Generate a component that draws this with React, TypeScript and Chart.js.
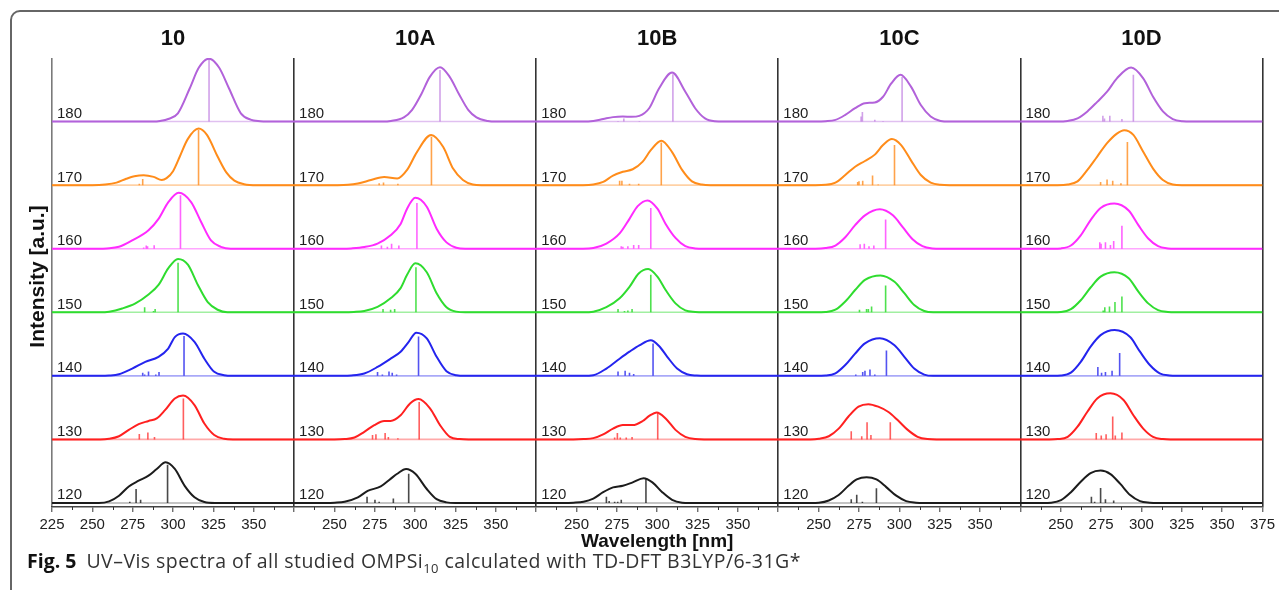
import React, { useEffect, useRef } from 'react';
import { Chart, registerables } from 'chart.js';

Chart.register(...registerables);

// ---------- labels ----------
const panelNames = ['10', '10A', '10B', '10C', '10D'];
const rowLabels = ['120', '130', '140', '150', '160', '170', '180'];
const rowColors = ['#1c1c1c', '#ff2020', '#2424ee', '#2fdc2f', '#ff2bff', '#ff8c1a', '#b262da'];
const stickColors = ['rgba(28,28,28,0.8)', 'rgba(255,40,40,0.75)', 'rgba(40,40,238,0.8)', 'rgba(47,220,47,0.85)', 'rgba(255,60,255,0.8)', 'rgba(255,140,30,0.8)', 'rgba(178,98,218,0.6)'];
const baseColors = ['rgba(28,28,28,0.35)', 'rgba(255,40,40,0.4)', 'rgba(40,40,238,0.4)', 'rgba(47,220,47,0.45)', 'rgba(255,60,255,0.45)', 'rgba(255,140,30,0.4)', 'rgba(178,98,218,0.4)'];
const wlMin = 225;
const wlMax = 375;

// ---------- data: [wavelength nm, relative intensity] per row 120..180 ----------
const curves10 = [
  [[254, 0], [260.4, 0.026], [266.5, 0.115], [272.6, 0.26], [278.7, 0.35], [284.8, 0.43], [289.9, 0.535], [295.4, 0.64], [301.1, 0.535], [307.2, 0.27], [313.3, 0.09], [319.4, 0.015], [326, 0]],
  [[255, 0], [260.4, 0.01], [266.5, 0.05], [272.6, 0.15], [278.7, 0.24], [284.8, 0.29], [289.9, 0.33], [295, 0.46], [301.1, 0.645], [306.2, 0.69], [313.3, 0.54], [319.4, 0.25], [325.5, 0.07], [331.6, 0.01], [337, 0]],
  [[255, 0], [260.4, 0.005], [266.5, 0.026], [274.7, 0.115], [282.8, 0.22], [291, 0.3], [297, 0.43], [301.1, 0.61], [306.2, 0.667], [313.3, 0.535], [319.4, 0.27], [325.5, 0.063], [331.6, 0.01], [337, 0]],
  [[255, 0], [260.4, 0.01], [268.5, 0.06], [276.7, 0.14], [284.8, 0.28], [291, 0.43], [297, 0.69], [303.1, 0.84], [309.2, 0.75], [315.4, 0.43], [321.5, 0.16], [327.6, 0.04], [333.7, 0]],
  [[254, 0], [259, 0.005], [266.5, 0.03], [274.7, 0.13], [284.8, 0.29], [291, 0.47], [297, 0.73], [303.5, 0.88], [311.3, 0.73], [317.4, 0.42], [323.5, 0.13], [329.6, 0.03], [335.7, 0]],
  [[250, 0], [258, 0.01], [265, 0.04], [271, 0.1], [276, 0.14], [281.8, 0.157], [288, 0.13], [293, 0.08], [296, 0.11], [300, 0.22], [304.2, 0.45], [309, 0.72], [315.8, 0.89], [321, 0.79], [327.6, 0.45], [333, 0.2], [338, 0.07], [344, 0.015], [352, 0]],
  [[288, 0], [292, 0.01], [297, 0.04], [303, 0.13], [310.3, 0.52], [316, 0.85], [322.3, 0.99], [328.5, 0.85], [334.7, 0.52], [342, 0.13], [348, 0.03], [354, 0.005], [358, 0]],
];
const sticks10 = [
  [[273.2, 0.02], [277.1, 0.22], [279.9, 0.05], [296.6, 0.6]],
  [[279.1, 0.085], [284.4, 0.11], [288.5, 0.04], [306.4, 0.645]],
  [[281.2, 0.05], [282.4, 0.02], [284.8, 0.07], [289.3, 0.02], [291.3, 0.06], [306.8, 0.625]],
  [[282.4, 0.08], [287.9, 0.02], [288.9, 0.05], [303.1, 0.78]],
  [[281.8, 0.02], [283.4, 0.05], [284.2, 0.04], [288.3, 0.055], [304.6, 0.84]],
  [[279.1, 0.02], [281.2, 0.095], [315.8, 0.87]],
  [[322.3, 0.98]],
];

const curves10A = [
  [[245, 0], [250.2, 0.005], [256.3, 0.02], [264.5, 0.09], [270.6, 0.19], [278.7, 0.26], [284.8, 0.38], [288.9, 0.46], [294.4, 0.535], [300.1, 0.46], [307.2, 0.22], [313.3, 0.06], [319.4, 0.01], [325, 0]],
  [[250, 0], [256.3, 0.005], [262.4, 0.03], [268.5, 0.12], [274.7, 0.225], [280.8, 0.29], [284.8, 0.29], [291, 0.38], [297, 0.57], [302.1, 0.635], [309.2, 0.49], [315.4, 0.225], [321.5, 0.04], [327.6, 0.005], [333, 0]],
  [[255, 0], [260.4, 0.005], [268.5, 0.037], [276.7, 0.14], [284.8, 0.27], [291, 0.38], [296, 0.535], [300.7, 0.68], [307.2, 0.59], [313.3, 0.3], [319.4, 0.073], [325.5, 0.01], [331, 0]],
  [[256, 0], [262, 0.005], [268.5, 0.02], [276.7, 0.084], [284.8, 0.22], [291, 0.38], [295, 0.59], [300.1, 0.77], [307.2, 0.63], [313.3, 0.3], [319.4, 0.08], [325.5, 0.01], [331, 0]],
  [[255, 0], [260.4, 0.005], [268.5, 0.026], [276.7, 0.08], [284.8, 0.21], [291, 0.39], [295, 0.63], [300.1, 0.8], [307.2, 0.66], [313.3, 0.315], [319.4, 0.1], [325.5, 0.016], [331, 0]],
  [[252, 0], [258.4, 0.005], [264.5, 0.026], [272.6, 0.08], [280.8, 0.13], [288.9, 0.105], [295, 0.24], [301.1, 0.52], [309.9, 0.79], [317.4, 0.6], [323.5, 0.26], [329.6, 0.08], [335.7, 0.01], [341, 0]],
  [[280, 0], [285, 0.01], [293, 0.065], [298, 0.18], [303.8, 0.43], [309, 0.7], [315.4, 0.855], [321.5, 0.7], [327.2, 0.43], [333, 0.18], [338, 0.065], [345, 0.01], [350, 0]],
];
const sticks10A = [
  [[270.2, 0.1], [275.1, 0.05], [277.7, 0.02], [286.5, 0.07], [296, 0.46]],
  [[273.6, 0.07], [275.7, 0.08], [281.4, 0.1], [283.4, 0.04], [289.3, 0.02], [302.5, 0.59]],
  [[276.7, 0.06], [279.7, 0.02], [283.8, 0.07], [285.8, 0.05], [288.5, 0.02], [302.1, 0.62]],
  [[280.1, 0.05], [284.8, 0.04], [287.3, 0.05], [300.5, 0.71]],
  [[279.1, 0.05], [282.8, 0.03], [285.4, 0.08], [289.9, 0.05], [301.1, 0.72]],
  [[277.7, 0.03], [280.4, 0.04], [289.3, 0.02], [310.1, 0.76]],
  [[315.4, 0.81]],
];

const curves10B = [
  [[242, 0], [248.2, 0.005], [254.3, 0.02], [260.4, 0.07], [266.5, 0.17], [272.6, 0.245], [278.7, 0.27], [284.8, 0.325], [291.5, 0.39], [297, 0.325], [303.1, 0.17], [309.2, 0.05], [315.4, 0.005], [320, 0]],
  [[248, 0], [254.3, 0.005], [260.4, 0.02], [266.5, 0.08], [272.6, 0.17], [278.7, 0.225], [284.8, 0.225], [291, 0.29], [295, 0.37], [299.7, 0.425], [305.2, 0.33], [311.3, 0.15], [317.4, 0.04], [323.5, 0.005], [329, 0]],
  [[254, 0], [260.4, 0.01], [268.5, 0.115], [276.7, 0.27], [282.8, 0.38], [288.9, 0.48], [296, 0.56], [301.1, 0.47], [306.2, 0.3], [312.3, 0.115], [318.4, 0.026], [324.5, 0.005], [330, 0]],
  [[254, 0], [260.4, 0.01], [268.5, 0.08], [276.7, 0.22], [282.8, 0.4], [288.5, 0.61], [294.4, 0.68], [300.1, 0.56], [305.2, 0.35], [311.3, 0.14], [317.4, 0.03], [323.5, 0.005], [329, 0]],
  [[254, 0], [260.4, 0.01], [268.5, 0.08], [276.7, 0.24], [282.8, 0.47], [287.9, 0.67], [294, 0.76], [300.1, 0.63], [305.2, 0.39], [311.3, 0.17], [317.4, 0.04], [323.5, 0.005], [329, 0]],
  [[254, 0], [260.4, 0.01], [266.5, 0.05], [272.6, 0.15], [278.7, 0.21], [284.8, 0.25], [291, 0.37], [296, 0.55], [302.5, 0.7], [309.2, 0.52], [315.4, 0.24], [321.5, 0.06], [327.6, 0.01], [333, 0]],
  [[254, 0], [260.4, 0.01], [266.5, 0.04], [272.6, 0.07], [278.7, 0.08], [284, 0.075], [288.9, 0.09], [295, 0.21], [301.1, 0.52], [309.2, 0.77], [317.4, 0.47], [323.5, 0.21], [329.6, 0.05], [335.7, 0.005], [341, 0]],
];
const sticks10B = [
  [[268.5, 0.1], [270.2, 0.03], [273.6, 0.02], [275.5, 0.02], [277.7, 0.05], [293, 0.38]],
  [[273.6, 0.03], [275.3, 0.1], [277.1, 0.03], [280.8, 0.03], [284.4, 0.04], [300.3, 0.425]],
  [[275.7, 0.07], [280.1, 0.08], [282.8, 0.05], [285.4, 0.03], [297.4, 0.51]],
  [[275.7, 0.05], [279.7, 0.02], [281.8, 0.03], [284.4, 0.05], [296, 0.59]],
  [[277.7, 0.04], [278.7, 0.03], [281.8, 0.04], [285.4, 0.06], [288.5, 0.06], [296, 0.64]],
  [[276.7, 0.07], [278.1, 0.07], [282.8, 0.02], [288.5, 0.02], [302.5, 0.67]],
  [[275.7, 0.01], [279.3, 0.05], [288.9, 0.01], [309.7, 0.745]],
];

const curves10C = [
  [[245, 0], [250.2, 0.005], [256.3, 0.04], [262.4, 0.125], [268.5, 0.27], [273.6, 0.37], [279.7, 0.405], [285.8, 0.37], [291.9, 0.25], [298.1, 0.115], [304.2, 0.03], [310.3, 0.005], [315, 0]],
  [[245, 0], [250.2, 0.01], [256.3, 0.05], [262.4, 0.17], [268.5, 0.36], [274.7, 0.515], [280.8, 0.555], [286.9, 0.515], [293, 0.435], [299.1, 0.3], [305.2, 0.15], [311.3, 0.04], [317.4, 0.005], [323, 0]],
  [[248, 0], [254.3, 0.005], [260.4, 0.04], [266.5, 0.17], [272.6, 0.35], [278.7, 0.51], [287.9, 0.59], [297, 0.48], [303.1, 0.3], [309.2, 0.115], [315.4, 0.02], [321, 0]],
  [[248, 0], [254.3, 0.005], [260.4, 0.04], [266.5, 0.17], [272.6, 0.35], [278.7, 0.51], [288.3, 0.58], [297, 0.48], [303.1, 0.3], [309.2, 0.115], [315.4, 0.02], [321, 0]],
  [[248, 0], [254.3, 0.01], [260.4, 0.05], [266.5, 0.18], [272.6, 0.37], [278.7, 0.525], [287.9, 0.62], [296, 0.525], [302.1, 0.34], [308.2, 0.15], [314.3, 0.04], [320.4, 0.005], [326, 0]],
  [[248, 0], [254.3, 0.005], [260.4, 0.04], [266.5, 0.16], [272.6, 0.29], [278.7, 0.38], [284.8, 0.48], [289.9, 0.63], [295.4, 0.725], [301.1, 0.63], [307.2, 0.39], [313.3, 0.16], [319.4, 0.04], [325.5, 0.005], [331, 0]],
  [[248, 0], [254.3, 0.005], [260.4, 0.026], [266.5, 0.105], [272.6, 0.21], [278.7, 0.29], [284.8, 0.3], [289.9, 0.39], [295, 0.6], [300.7, 0.735], [307.2, 0.55], [313.3, 0.26], [319.4, 0.08], [325.5, 0.01], [331, 0]],
];
const sticks10C = [
  [[270.2, 0.06], [273.6, 0.13], [277.1, 0.02], [285.8, 0.23]],
  [[270.2, 0.13], [276.7, 0.05], [280, 0.27], [282.4, 0.07], [294.4, 0.27]],
  [[273, 0.02], [277.3, 0.06], [278.7, 0.08], [281.8, 0.1], [284.8, 0.02], [292, 0.4]],
  [[275.3, 0.04], [279.7, 0.05], [280.8, 0.05], [282.8, 0.09], [291.5, 0.42]],
  [[275.7, 0.07], [278.3, 0.08], [281.2, 0.04], [284.2, 0.05], [291.5, 0.46]],
  [[274.2, 0.05], [275, 0.06], [277.3, 0.07], [283.4, 0.15], [286.9, 0.01], [297, 0.63]],
  [[276.3, 0.08], [277.1, 0.15], [284.8, 0.03], [289.9, 0.01], [301.7, 0.7]],
];

const curves10D = [
  [[239, 0], [244.1, 0.005], [250.2, 0.045], [256.3, 0.17], [262.4, 0.335], [268.5, 0.47], [274.7, 0.51], [280.8, 0.455], [286.9, 0.3], [293, 0.125], [299.1, 0.03], [305.2, 0.005], [310, 0]],
  [[243, 0], [248.2, 0.005], [254.3, 0.04], [260.4, 0.2], [266.5, 0.435], [272.6, 0.645], [280.8, 0.725], [288.9, 0.62], [295, 0.38], [301.1, 0.17], [307.2, 0.04], [313.3, 0.005], [318, 0]],
  [[245, 0], [250.2, 0.005], [256.3, 0.05], [262.4, 0.22], [268.5, 0.46], [274.7, 0.64], [283.4, 0.72], [293, 0.61], [299.1, 0.38], [305.2, 0.17], [311.3, 0.04], [317.4, 0.005], [322, 0]],
  [[245, 0], [250.2, 0.005], [256.3, 0.05], [262.4, 0.19], [268.5, 0.39], [274.7, 0.56], [283.2, 0.63], [292.1, 0.535], [298.1, 0.325], [304.2, 0.14], [310.3, 0.035], [316.4, 0.005], [321, 0]],
  [[245, 0], [250.2, 0.005], [256.3, 0.05], [262.4, 0.21], [268.5, 0.45], [274.7, 0.64], [283.2, 0.71], [292.1, 0.6], [298.1, 0.37], [304.2, 0.16], [310.3, 0.04], [316.4, 0.005], [321, 0]],
  [[248, 0], [254.3, 0.01], [260.4, 0.06], [266.5, 0.24], [272.6, 0.45], [278.7, 0.66], [284.8, 0.81], [289.3, 0.865], [295, 0.79], [301.1, 0.525], [307.2, 0.26], [313.3, 0.08], [319.4, 0.01], [325, 0]],
  [[248, 0], [254.3, 0.01], [260.4, 0.05], [266.5, 0.16], [272.6, 0.31], [278.7, 0.47], [284.8, 0.68], [293.6, 0.85], [301.1, 0.68], [307.2, 0.39], [313.3, 0.16], [319.4, 0.04], [325.5, 0.005], [331, 0]],
];
const sticks10D = [
  [[269, 0.1], [271, 0.02], [274.7, 0.235], [277.7, 0.06], [282.8, 0.04]],
  [[272, 0.1], [275.1, 0.06], [278.1, 0.08], [282.2, 0.36], [283.8, 0.06], [287.9, 0.11]],
  [[273, 0.14], [275.3, 0.05], [277.7, 0.06], [281.8, 0.08], [286.5, 0.36]],
  [[276.3, 0.03], [277.3, 0.08], [280.2, 0.09], [283.6, 0.16], [287.9, 0.25]],
  [[274.2, 0.1], [275, 0.08], [277.7, 0.1], [280.8, 0.06], [282.8, 0.12], [287.9, 0.36]],
  [[274.7, 0.05], [278.7, 0.09], [282.2, 0.07], [287.3, 0.03], [291.3, 0.68]],
  [[276.1, 0.09], [277.1, 0.05], [280.4, 0.09], [287.9, 0.04], [295, 0.735]],
];

const panelCurves = [curves10, curves10A, curves10B, curves10C, curves10D];
const panelSticks = [sticks10, sticks10A, sticks10B, sticks10C, sticks10D];

const SPAN = wlMax - wlMin;
const FONT = '"Liberation Sans", Arial, Helvetica, sans-serif';

function buildDatasets() {
  const ds: any[] = [];
  panelCurves.forEach((rows, p) => {
    const off = p * SPAN;
    rows.forEach((pts, r) => {
      const curve = [{ x: off, y: r }];
      pts.forEach(([nm, h]) => curve.push({ x: nm - wlMin + off, y: r + h }));
      curve.push({ x: off + SPAN, y: r });
      ds.push({
        data: curve,
        borderColor: rowColors[r],
        borderWidth: 2,
        pointRadius: 0,
        cubicInterpolationMode: 'monotone',
        fill: false,
        order: 0,
      });
      const st: any[] = [{ x: off, y: r }, { x: off + SPAN, y: r }, { x: off + SPAN, y: null }];
      panelSticks[p][r].forEach(([nm, h]) => {
        const xv = nm - wlMin + off;
        st.push({ x: xv, y: r }, { x: xv, y: r + h }, { x: xv, y: null });
      });
      ds.push({
        data: st,
        borderColor: stickColors[r],
        borderWidth: 1.6,
        pointRadius: 0,
        tension: 0,
        spanGaps: false,
        fill: false,
        order: 1,
        segment: {
          borderColor: (c: any) => (c.p0.parsed.y === c.p1.parsed.y ? baseColors[r] : undefined),
        },
      });
    });
  });
  return ds;
}

const overlayPlugin = {
  id: 'overlay',
  afterDraw(chart: any) {
    const { ctx, chartArea } = chart;
    const x = chart.scales.x;
    const y = chart.scales.y;
    ctx.save();
    // minor ticks
    ctx.strokeStyle = '#333';
    ctx.lineWidth = 1;
    for (let v = 12.5; v < SPAN * panelNames.length; v += 25) {
      const px = Math.round(x.getPixelForValue(v)) + 0.5;
      ctx.beginPath();
      ctx.moveTo(px, chartArea.bottom);
      ctx.lineTo(px, chartArea.bottom + 3);
      ctx.stroke();
    }
    // row labels and panel titles
    panelNames.forEach((name, p) => {
      const left = x.getPixelForValue(p * SPAN);
      ctx.fillStyle = '#1e1e1e';
      ctx.font = '15px ' + FONT;
      ctx.textAlign = 'left';
      ctx.textBaseline = 'alphabetic';
      rowLabels.forEach((lab, r) => ctx.fillText(lab, left + 5, y.getPixelForValue(r) - 3.5));
      ctx.font = 'bold 22px ' + FONT;
      ctx.textAlign = 'center';
      ctx.fillStyle = '#111';
      ctx.fillText(name, x.getPixelForValue(p * SPAN + SPAN / 2), chartArea.top - 13);
    });
    // axis titles
    ctx.font = 'bold 19px ' + FONT;
    ctx.textAlign = 'center';
    ctx.fillText('Wavelength [nm]', (chartArea.left + chartArea.right) / 2, 547);
    ctx.save();
    ctx.translate(44, (chartArea.top + chartArea.bottom) / 2 - 6);
    ctx.rotate(-Math.PI / 2);
    ctx.font = 'bold 21px ' + FONT;
    ctx.fillText('Intensity [a.u.]', 0, 0);
    ctx.restore();
    ctx.restore();
  },
};

export default function App() {
  const ref = useRef<HTMLCanvasElement>(null);
  useEffect(() => {
    if (!ref.current) return;
    const total = SPAN * panelNames.length;
    const chart = new Chart(ref.current, {
      type: 'line',
      data: { datasets: buildDatasets() },
      options: {
        animation: false,
        responsive: false,
        devicePixelRatio: 1,
        events: [],
        layout: { padding: { left: 52, right: 13, top: 58, bottom: 0 } },
        plugins: { legend: { display: false }, tooltip: { enabled: false }, title: { display: false } },
        scales: {
          x: {
            type: 'linear',
            min: 0,
            max: total,
            afterFit: (s: any) => {
              s.height = 83;
            },
            ticks: {
              stepSize: 25,
              autoSkip: false,
              maxRotation: 0,
              padding: 4,
              color: '#222',
              font: { family: FONT, size: 15 },
              callback: (v: any) => {
                const val = Math.round(Number(v) * 10) / 10;
                if (val === 0) return String(wlMin);
                if (val === total) return String(wlMax);
                if (val % SPAN === 0) return '';
                return String(wlMin + (val % SPAN));
              },
            },
            grid: {
              drawOnChartArea: true,
              drawTicks: true,
              tickLength: 5,
              tickWidth: 1,
              tickColor: '#333',
              lineWidth: 1.6,
              color: (c: any) => {
                if (!c.tick) return 'rgba(0,0,0,0)';
                const v = Math.round(c.tick.value * 10) / 10;
                if (v === 0) return '#7a7a7a';
                return v % SPAN === 0 ? '#333' : 'rgba(0,0,0,0)';
              },
            },
            border: { display: true, color: '#444', width: 1.5 },
          },
          y: {
            type: 'linear',
            min: -0.063,
            max: 7,
            display: false,
          },
        },
      },
      plugins: [overlayPlugin],
    } as any);
    return () => chart.destroy();
  }, []);

  return (
    <div style={{ position: 'absolute', left: 0, top: 0, width: 1279, height: 590, overflow: 'hidden', background: '#fff' }}>
      <div
        style={{
          position: 'absolute',
          left: 10,
          top: 10,
          width: 1320,
          height: 640,
          border: '2px solid #666',
          borderRadius: 10,
          boxSizing: 'border-box',
        }}
      />
      <canvas ref={ref} width={1279} height={590} style={{ position: 'absolute', left: 0, top: 0, width: 1279, height: 590 }} />
      <div
        style={{
          position: 'absolute',
          left: 27,
          top: 551,
          fontFamily: '"Open Sans", "Noto Sans", sans-serif',
          fontSize: 19.5,
          letterSpacing: '0.45px',
          lineHeight: '20px',
          color: '#333',
          whiteSpace: 'nowrap',
        }}
      >
        <b style={{ color: '#111', marginRight: 10, letterSpacing: 0 }}>Fig. 5</b>
        UV–Vis spectra of all studied OMPSi
        <span style={{ fontSize: 13, verticalAlign: '-5px' }}>10</span> calculated with TD-DFT B3LYP/6-31G*
      </div>
    </div>
  );
}
